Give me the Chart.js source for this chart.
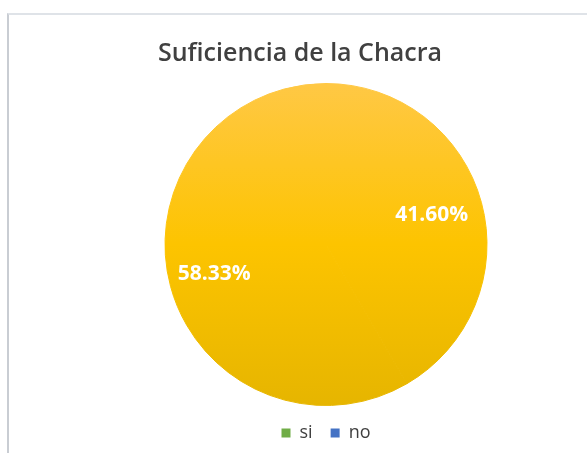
<!DOCTYPE html>
<html lang="es">
<head>
<meta charset="utf-8">
<title>Suficiencia de la Chacra</title>
<script src="https://cdn.jsdelivr.net/npm/chart.js@4.4.1/dist/chart.umd.min.js"></script>
<style>
    html, body { margin: 0; padding: 0; background: #ffffff; overflow: hidden; }
    #wrap { position: relative; width: 587px; height: 453px; }
    #marco {
        position: absolute; left: 7px; top: 13px; right: -10px; bottom: -10px;
        border-top: 2px solid #dfe3e8; border-left: 2px solid #c9cdd3;
    }
    #chacraChart { position: absolute; left: 0; top: 0; }
</style>
</head>
<body>
<div id="wrap">
    <div id="marco"></div>
    <canvas id="chacraChart" width="587" height="453"></canvas>
</div>
<script>
// Datos del gráfico
const categorias = ['si', 'no'];
const porcentajes = [41.60, 58.33];
const coloresLeyenda = ['#70ad47', '#4472c4'];
const titulo = 'Suficiencia de la Chacra';

document.addEventListener('DOMContentLoaded', function () {
    const canvas = document.getElementById('chacraChart');
    if (!canvas || typeof Chart === 'undefined') return;
    const ctx = canvas.getContext('2d');

    // Degradado dorado que usa Excel para las porciones
    let degradado = null;
    const rellenoDorado = function (context) {
        const area = context.chart.chartArea;
        if (!area) return '#fdc300';
        if (!degradado) {
            degradado = context.chart.ctx.createLinearGradient(0, area.top, 0, area.bottom);
            degradado.addColorStop(0, '#ffc845');
            degradado.addColorStop(0.5, '#fdc400');
            degradado.addColorStop(1, '#e6b500');
        }
        return degradado;
    };

    // Título dibujado a mano (no está centrado sobre el pastel)
    const tituloPlugin = {
        id: 'tituloPlugin',
        afterDraw(chart) {
            const c = chart.ctx;
            c.save();
            c.font = '600 25px "Open Sans", sans-serif';
            c.fillStyle = '#404040';
            c.textAlign = 'center';
            c.textBaseline = 'middle';
            c.fillText(titulo, 300, 54);
            c.restore();
        }
    };

    // Etiquetas de porcentaje dentro de cada porción
    const etiquetasPorcentaje = {
        id: 'etiquetasPorcentaje',
        afterDatasetsDraw(chart) {
            const meta = chart.getDatasetMeta(0);
            if (!meta || !meta.data) return;
            const c = chart.ctx;
            c.save();
            c.font = 'bold 21px "Open Sans", sans-serif';
            c.fillStyle = '#ffffff';
            c.textAlign = 'center';
            c.textBaseline = 'middle';
            meta.data.forEach((arc, i) => {
                const p = arc.getProps(['x', 'y', 'startAngle', 'endAngle', 'outerRadius'], true);
                const ang = (p.startAngle + p.endAngle) / 2;
                const r = p.outerRadius * 0.7;
                c.fillText(porcentajes[i].toFixed(2) + '%', p.x + Math.cos(ang) * r - 3, p.y + Math.sin(ang) * r);
            });
            c.restore();
        }
    };

    new Chart(ctx, {
        type: 'pie',
        plugins: [etiquetasPorcentaje, tituloPlugin],
        data: {
            labels: categorias,
            datasets: [{
                data: porcentajes,
                backgroundColor: rellenoDorado,
                // mismo degradado en el borde para que no se vea la unión
                borderColor: rellenoDorado,
                borderWidth: 1,
                hoverOffset: 0
            }]
        },
        options: {
            responsive: false,
            animation: false,
            layout: {
                padding: { top: 83, left: 75, right: 10, bottom: 1 }
            },
            plugins: {
                title: { display: false },
                tooltip: { enabled: false },
                legend: {
                    display: true,
                    position: 'bottom',
                    labels: {
                        boxWidth: 9,
                        boxHeight: 9,
                        padding: 18,
                        color: '#404040',
                        font: { family: '"Open Sans", sans-serif', size: 18 },
                        generateLabels: function (chart) {
                            return categorias.map((label, i) => ({
                                text: label,
                                fillStyle: coloresLeyenda[i],
                                strokeStyle: coloresLeyenda[i],
                                lineWidth: 0,
                                fontColor: '#404040',
                                hidden: false,
                                index: i
                            }));
                        }
                    }
                }
            }
        }
    });
});
</script>
</body>
</html>
